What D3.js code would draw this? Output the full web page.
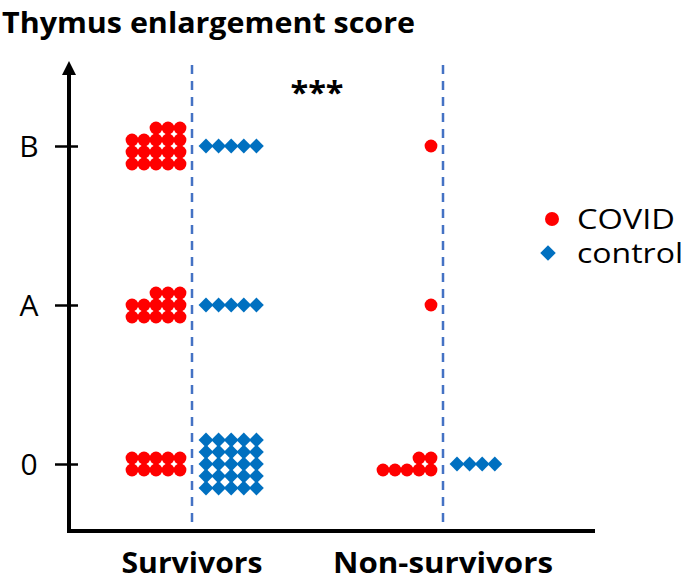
<script src="https://d3js.org/d3.v7.js"></script>
<style>
  body { margin: 0; background: #fff; }
  text { font-family: "Open Sans", sans-serif; }
</style>
<svg width="685" height="581"></svg>
<script>
    // groups on the x axis, scores on the y axis
    const groups = ["Survivors", "Non-survivors"];
    const scores = ["0", "A", "B"];

    // number of animals per score, in the order of `scores`
    const covidSurvivors = [10, 13, 18];
    const covidNonSurvivors = [7, 1, 1];
    const controlSurvivors = [25, 5, 5];
    const controlNonSurvivors = [4, 0, 0];

    const seriesNames = ["COVID", "control"];
    const seriesColors = ["#ff0000", "#0070c0"];

    const svg = d3.select("svg");

    const x = d3.scalePoint().domain(groups).range([192, 443]);
    const y = d3.scalePoint().domain(scores).range([464, 146]);

    // build one record per dot, stacked in small rows next to the group line
    function stack(counts, group, series) {
        const out = [];
        counts.forEach((n, si) => {
            const perRow = 5;
            const rows = Math.ceil(n / perRow);
            for (let i = 0; i < n; i++) {
                const r = Math.floor(i / perRow);
                const rowCount = Math.min(perRow, n - r * perRow);
                const c = i - r * perRow;
                out.push({group, series, score: scores[si], row: r, rows, col: c, rowCount});
            }
        });
        return out;
    }

    const covid = [...stack(covidSurvivors, "Survivors", 0), ...stack(covidNonSurvivors, "Non-survivors", 0)];
    const control = [...stack(controlSurvivors, "Survivors", 1), ...stack(controlNonSurvivors, "Non-survivors", 1)];

    const yAxisX = 69, xAxisY = 531;

    // dashed group lines
    svg.selectAll(".gline")
        .data(groups)
        .join("line")
        .attr("x1", d => x(d)).attr("x2", d => x(d))
        .attr("y1", 65).attr("y2", xAxisY - 2)
        .attr("stroke", "#4472c4")
        .attr("stroke-width", 2.5)
        .attr("stroke-dasharray", "9,7");

    // COVID circles, right aligned left of the line
    const cp = 12;
    svg.append("g").selectAll("circle")
        .data(covid)
        .join("circle")
        .attr("cx", d => x(d.group) - cp - (d.rowCount - 1 - d.col) * cp)
        .attr("cy", d => y(d.score) - (d.row - (d.rows - 1) / 2) * cp)
        .attr("r", 6.4)
        .attr("fill", seriesColors[0]);

    // control diamonds, left aligned right of the line
    const dp = 12.6;
    const diamond = d3.symbol().type(d3.symbolSquare).size(110);
    svg.append("g").selectAll("path")
        .data(control)
        .join("path")
        .attr("d", diamond)
        .attr("transform", d => `translate(${x(d.group) + 14 + d.col * dp},${y(d.score) - (d.row - (d.rows - 1) / 2) * 12}) rotate(45)`)
        .attr("fill", seriesColors[1]);

    // y axis with crossing ticks
    const yAxis = svg.append("g")
        .attr("transform", `translate(${yAxisX},0)`)
        .call(d3.axisLeft(y).tickSize(0).tickPadding(0));
    yAxis.select(".domain").remove();
    yAxis.selectAll(".tick line")
        .attr("x1", -14).attr("x2", 9)
        .attr("stroke", "#000").attr("stroke-width", 2.5);
    yAxis.selectAll(".tick text")
        .attr("x", -40)
        .attr("dy", "0.36em")
        .attr("text-anchor", "middle")
        .attr("font-size", 30)
        .attr("font-family", "Open Sans, sans-serif")
        .attr("fill", "#000");

    svg.append("line")
        .attr("x1", yAxisX).attr("x2", yAxisX)
        .attr("y1", xAxisY + 2).attr("y2", 72)
        .attr("stroke", "#000").attr("stroke-width", 4);
    svg.append("path")
        .attr("d", `M${yAxisX - 7},75 L${yAxisX},61 L${yAxisX + 7},75 Z`)
        .attr("fill", "#000");

    // x axis
    svg.append("line")
        .attr("x1", yAxisX - 2).attr("x2", 595)
        .attr("y1", xAxisY).attr("y2", xAxisY)
        .attr("stroke", "#000").attr("stroke-width", 4);

    // group labels
    const labelWidths = [141, 220];
    svg.selectAll(".glabel")
        .data(groups)
        .join("text")
        .attr("x", d => x(d))
        .attr("y", 573)
        .attr("text-anchor", "middle")
        .attr("font-size", 28)
        .attr("font-weight", 700)
        .attr("textLength", (d, i) => labelWidths[i])
        .attr("lengthAdjust", "spacingAndGlyphs")
        .text(d => d);

    // title
    svg.append("text")
        .attr("x", 2).attr("y", 33)
        .attr("font-size", 28)
        .attr("font-weight", 700)
        .attr("textLength", 413)
        .attr("lengthAdjust", "spacingAndGlyphs")
        .text("Thymus enlargement score");

    // significance
    svg.append("text")
        .attr("x", 317).attr("y", 103)
        .attr("text-anchor", "middle")
        .attr("font-size", 30)
        .attr("font-weight", 700)
        .attr("textLength", 53)
        .attr("lengthAdjust", "spacingAndGlyphs")
        .text("***");

    // legend
    const legend = svg.append("g");
    legend.append("circle")
        .attr("cx", 552).attr("cy", 219).attr("r", 7)
        .attr("fill", seriesColors[0]);
    legend.append("path")
        .attr("d", d3.symbol().type(d3.symbolSquare).size(120))
        .attr("transform", "translate(548,253) rotate(45)")
        .attr("fill", seriesColors[1]);
    const legendWidths = [98, 106];
    legend.selectAll(".ltext")
        .data(seriesNames)
        .join("text")
        .attr("x", 577)
        .attr("y", (d, i) => [229, 263][i])
        .attr("font-size", 27)
        .attr("font-weight", 500)
        .attr("textLength", (d, i) => legendWidths[i])
        .attr("lengthAdjust", "spacingAndGlyphs")
        .text(d => d);
</script>
